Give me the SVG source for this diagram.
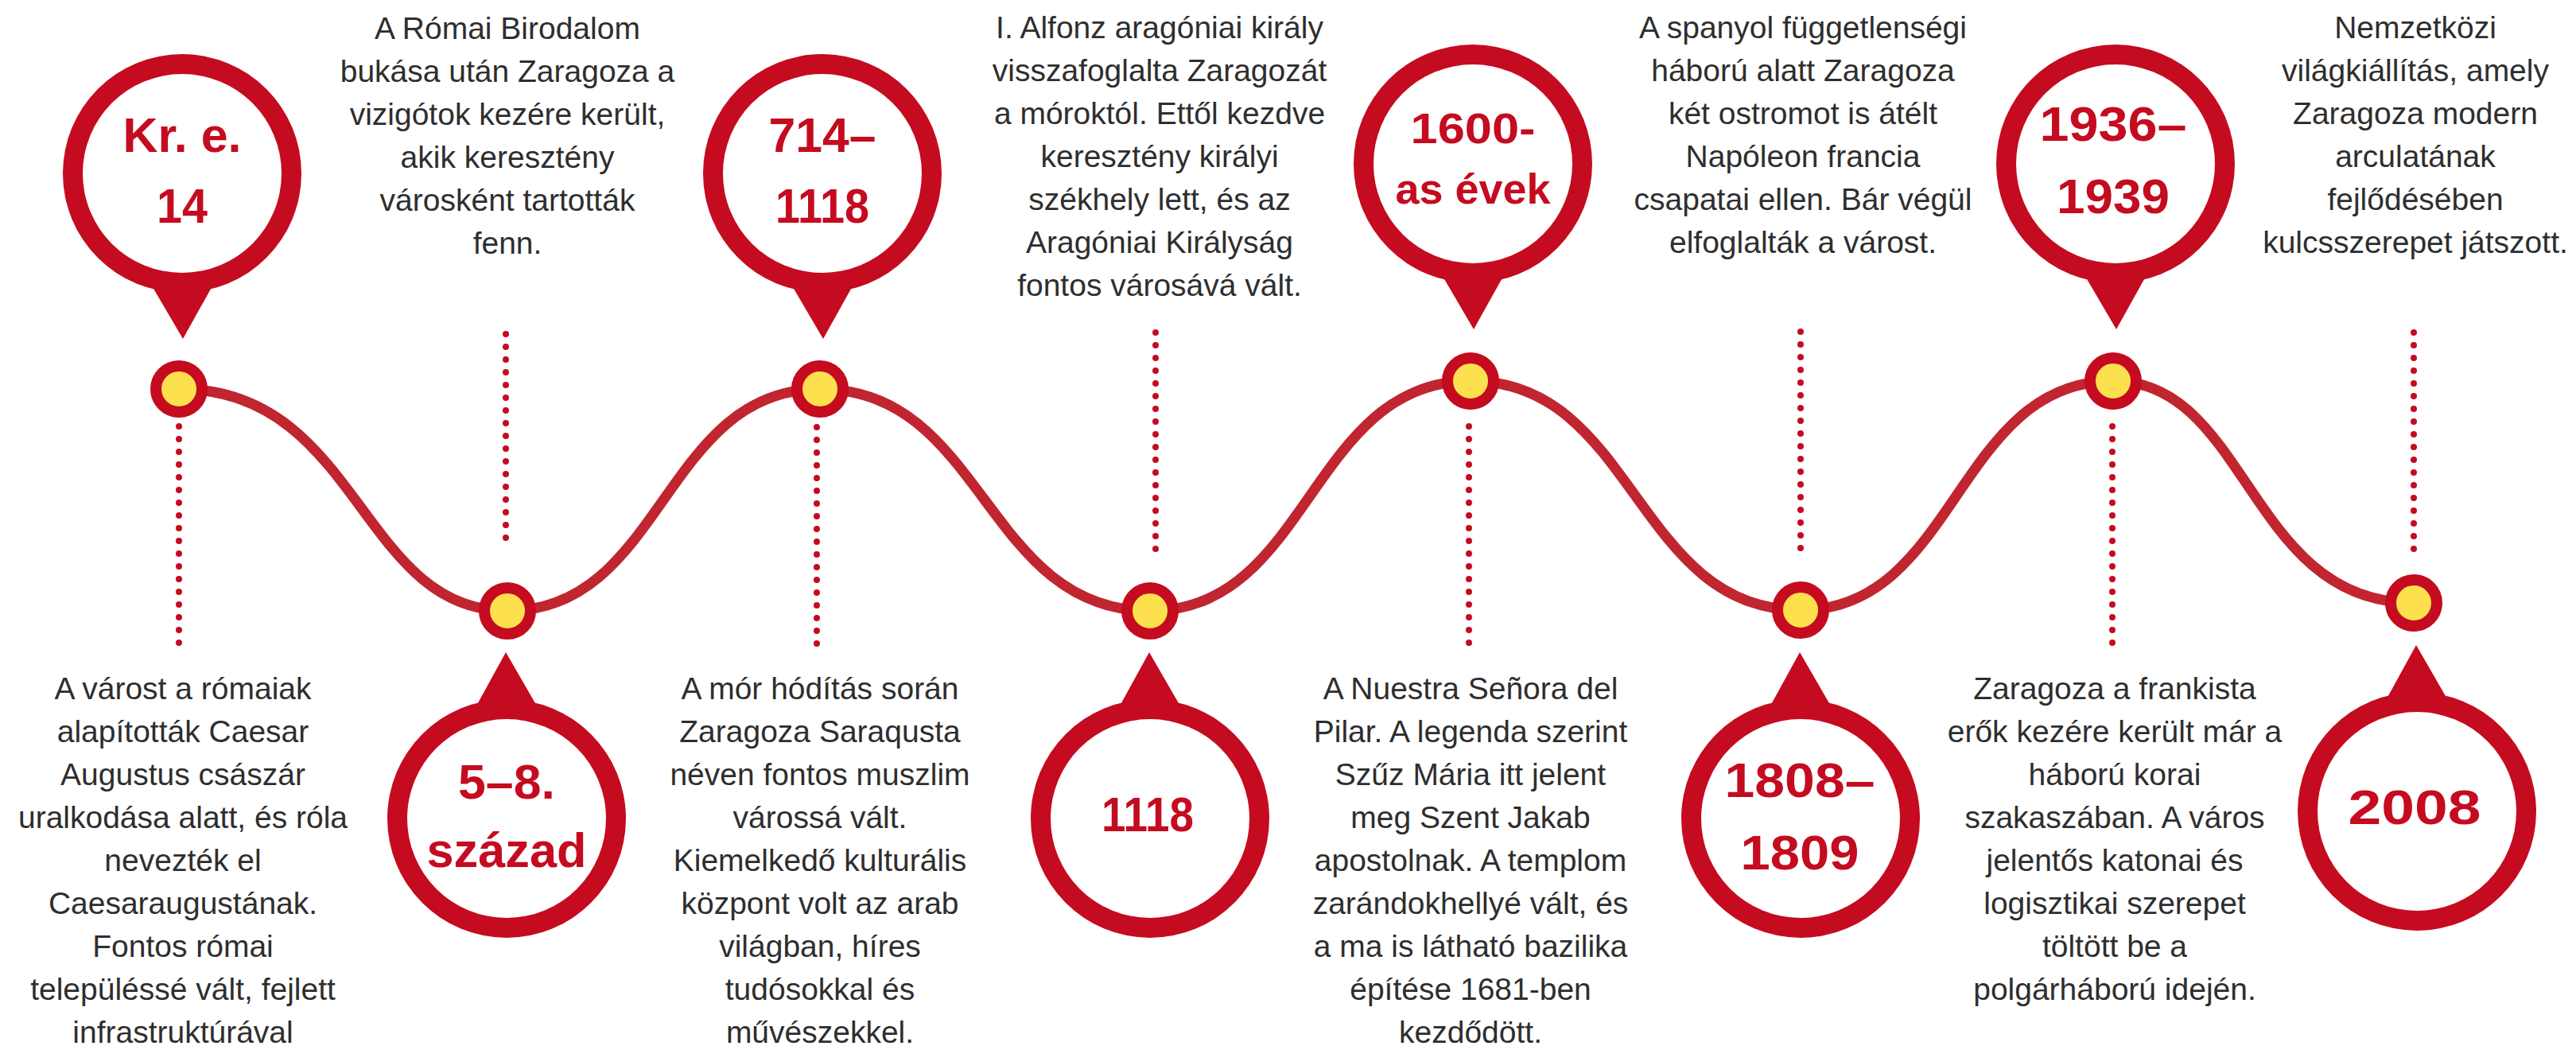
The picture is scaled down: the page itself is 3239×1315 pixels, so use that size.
<svg xmlns="http://www.w3.org/2000/svg" xmlns:xlink="http://www.w3.org/1999/xlink" width="3239" height="1315" viewBox="0 0 3239 1315">
<style>
.desc{font-family:"Liberation Sans",Arial,sans-serif;font-size:39px;fill:#2e2e2e;text-anchor:middle}
.date{font-family:"Liberation Sans",Arial,sans-serif;font-weight:bold;font-size:62px;fill:#c50b1f;text-anchor:middle}
.date.sm{font-size:53px}
.wave{fill:none;stroke:#c1252f;stroke-width:13}
.dots{stroke:#c50b1f;stroke-width:8;stroke-linecap:round;stroke-dasharray:0 16}
.mark{fill:#fde04e;stroke:#c50b1f;stroke-width:14}
</style>
<defs>
<g id="pinDown">
<circle r="150" fill="#c50b1f"/>
<polygon points="-40,138 40,138 1,208" fill="#c50b1f"/>
<circle r="125" fill="#ffffff"/>
</g>
<g id="pinUp">
<circle r="150" fill="#c50b1f"/>
<polygon points="-40,-138 40,-138 -1,-209" fill="#c50b1f"/>
<circle r="125" fill="#ffffff"/>
</g>
</defs>
<rect width="3239" height="1315" fill="#ffffff"/>
<g id="connectors">
<path class="wave" d="M225,489 C452,489 452,768 638,768 C834,768 834,489 1031,489 C1238,489 1238,768 1446,768 C1647,768 1647,479 1849,479 C2056,479 2056,767 2264,767 C2460,767 2460,479 2657,479 C2827,479 2827,758 3035,758"/>
<line class="dots" x1="225" y1="536" x2="225" y2="809"/>
<line class="dots" x1="636" y1="420" x2="636" y2="692"/>
<line class="dots" x1="1027" y1="537" x2="1027" y2="810"/>
<line class="dots" x1="1453" y1="418" x2="1453" y2="691"/>
<line class="dots" x1="1847" y1="536" x2="1847" y2="809"/>
<line class="dots" x1="2264" y1="417" x2="2264" y2="691"/>
<line class="dots" x1="2656" y1="536" x2="2656" y2="809"/>
<line class="dots" x1="3035" y1="418" x2="3035" y2="691"/>
</g>
<g id="node-1">
<use xlink:href="#pinDown" x="229" y="218"/>
<text class="date" x="229" y="191" textLength="149" lengthAdjust="spacingAndGlyphs">Kr. e.</text>
<text class="date" x="229" y="280" textLength="64" lengthAdjust="spacingAndGlyphs">14</text>
<circle class="mark" cx="225" cy="489" r="29"/>
<text class="desc" x="230" y="879">A várost a rómaiak</text>
<text class="desc" x="230" y="933">alapították Caesar</text>
<text class="desc" x="230" y="987">Augustus császár</text>
<text class="desc" x="230" y="1041">uralkodása alatt, és róla</text>
<text class="desc" x="230" y="1095">nevezték el</text>
<text class="desc" x="230" y="1149">Caesaraugustának.</text>
<text class="desc" x="230" y="1203">Fontos római</text>
<text class="desc" x="230" y="1257">településsé vált, fejlett</text>
<text class="desc" x="230" y="1311">infrastruktúrával</text>
</g>
<g id="node-2">
<use xlink:href="#pinUp" x="637" y="1029"/>
<text class="date" x="637" y="1004" textLength="122" lengthAdjust="spacingAndGlyphs">5–8.</text>
<text class="date" x="637" y="1090" textLength="201" lengthAdjust="spacingAndGlyphs">század</text>
<circle class="mark" cx="638" cy="768" r="29"/>
<text class="desc" x="638" y="49">A Római Birodalom</text>
<text class="desc" x="638" y="103">bukása után Zaragoza a</text>
<text class="desc" x="638" y="157">vizigótok kezére került,</text>
<text class="desc" x="638" y="211">akik keresztény</text>
<text class="desc" x="638" y="265">városként tartották</text>
<text class="desc" x="638" y="319">fenn.</text>
</g>
<g id="node-3">
<use xlink:href="#pinDown" x="1034" y="218"/>
<text class="date" x="1034" y="191" textLength="135" lengthAdjust="spacingAndGlyphs">714–</text>
<text class="date" x="1034" y="280" textLength="118" lengthAdjust="spacingAndGlyphs">1118</text>
<circle class="mark" cx="1031" cy="489" r="29"/>
<text class="desc" x="1031" y="879">A mór hódítás során</text>
<text class="desc" x="1031" y="933">Zaragoza Saraqusta</text>
<text class="desc" x="1031" y="987">néven fontos muszlim</text>
<text class="desc" x="1031" y="1041">várossá vált.</text>
<text class="desc" x="1031" y="1095">Kiemelkedő kulturális</text>
<text class="desc" x="1031" y="1149">központ volt az arab</text>
<text class="desc" x="1031" y="1203">világban, híres</text>
<text class="desc" x="1031" y="1257">tudósokkal és</text>
<text class="desc" x="1031" y="1311">művészekkel.</text>
</g>
<g id="node-4">
<use xlink:href="#pinUp" x="1446" y="1029"/>
<text class="date" x="1443" y="1045" textLength="116" lengthAdjust="spacingAndGlyphs">1118</text>
<circle class="mark" cx="1446" cy="768" r="29"/>
<text class="desc" x="1458" y="48">I. Alfonz aragóniai király</text>
<text class="desc" x="1458" y="102">visszafoglalta Zaragozát</text>
<text class="desc" x="1458" y="156">a móroktól. Ettől kezdve</text>
<text class="desc" x="1458" y="210">keresztény királyi</text>
<text class="desc" x="1458" y="264">székhely lett, és az</text>
<text class="desc" x="1458" y="318">Aragóniai Királyság</text>
<text class="desc" x="1458" y="372">fontos városává vált.</text>
</g>
<g id="node-5">
<use xlink:href="#pinDown" x="1852" y="206"/>
<text class="date sm" x="1852" y="180" textLength="157" lengthAdjust="spacingAndGlyphs">1600-</text>
<text class="date sm" x="1852" y="256" textLength="195" lengthAdjust="spacingAndGlyphs">as évek</text>
<circle class="mark" cx="1849" cy="479" r="29"/>
<text class="desc" x="1849" y="879">A Nuestra Señora del</text>
<text class="desc" x="1849" y="933">Pilar. A legenda szerint</text>
<text class="desc" x="1849" y="987">Szűz Mária itt jelent</text>
<text class="desc" x="1849" y="1041">meg Szent Jakab</text>
<text class="desc" x="1849" y="1095">apostolnak. A templom</text>
<text class="desc" x="1849" y="1149">zarándokhellyé vált, és</text>
<text class="desc" x="1849" y="1203">a ma is látható bazilika</text>
<text class="desc" x="1849" y="1257">építése 1681-ben</text>
<text class="desc" x="1849" y="1311">kezdődött.</text>
</g>
<g id="node-6">
<use xlink:href="#pinUp" x="2264" y="1029"/>
<text class="date" x="2263" y="1002" textLength="189" lengthAdjust="spacingAndGlyphs">1808–</text>
<text class="date" x="2263" y="1093" textLength="149" lengthAdjust="spacingAndGlyphs">1809</text>
<circle class="mark" cx="2264" cy="767" r="29"/>
<text class="desc" x="2267" y="48">A spanyol függetlenségi</text>
<text class="desc" x="2267" y="102">háború alatt Zaragoza</text>
<text class="desc" x="2267" y="156">két ostromot is átélt</text>
<text class="desc" x="2267" y="210">Napóleon francia</text>
<text class="desc" x="2267" y="264">csapatai ellen. Bár végül</text>
<text class="desc" x="2267" y="318">elfoglalták a várost.</text>
</g>
<g id="node-7">
<use xlink:href="#pinDown" x="2660" y="206"/>
<text class="date" x="2657" y="177" textLength="185" lengthAdjust="spacingAndGlyphs">1936–</text>
<text class="date" x="2657" y="268" textLength="142" lengthAdjust="spacingAndGlyphs">1939</text>
<circle class="mark" cx="2657" cy="479" r="29"/>
<text class="desc" x="2659" y="879">Zaragoza a frankista</text>
<text class="desc" x="2659" y="933">erők kezére került már a</text>
<text class="desc" x="2659" y="987">háború korai</text>
<text class="desc" x="2659" y="1041">szakaszában. A város</text>
<text class="desc" x="2659" y="1095">jelentős katonai és</text>
<text class="desc" x="2659" y="1149">logisztikai szerepet</text>
<text class="desc" x="2659" y="1203">töltött be a</text>
<text class="desc" x="2659" y="1257">polgárháború idején.</text>
</g>
<g id="node-8">
<use xlink:href="#pinUp" x="3039" y="1020"/>
<text class="date" x="3036" y="1036" textLength="167" lengthAdjust="spacingAndGlyphs">2008</text>
<circle class="mark" cx="3035" cy="758" r="29"/>
<text class="desc" x="3037" y="48">Nemzetközi</text>
<text class="desc" x="3037" y="102">világkiállítás, amely</text>
<text class="desc" x="3037" y="156">Zaragoza modern</text>
<text class="desc" x="3037" y="210">arculatának</text>
<text class="desc" x="3037" y="264">fejlődésében</text>
<text class="desc" x="3037" y="318">kulcsszerepet játszott.</text>
</g>
</svg>
